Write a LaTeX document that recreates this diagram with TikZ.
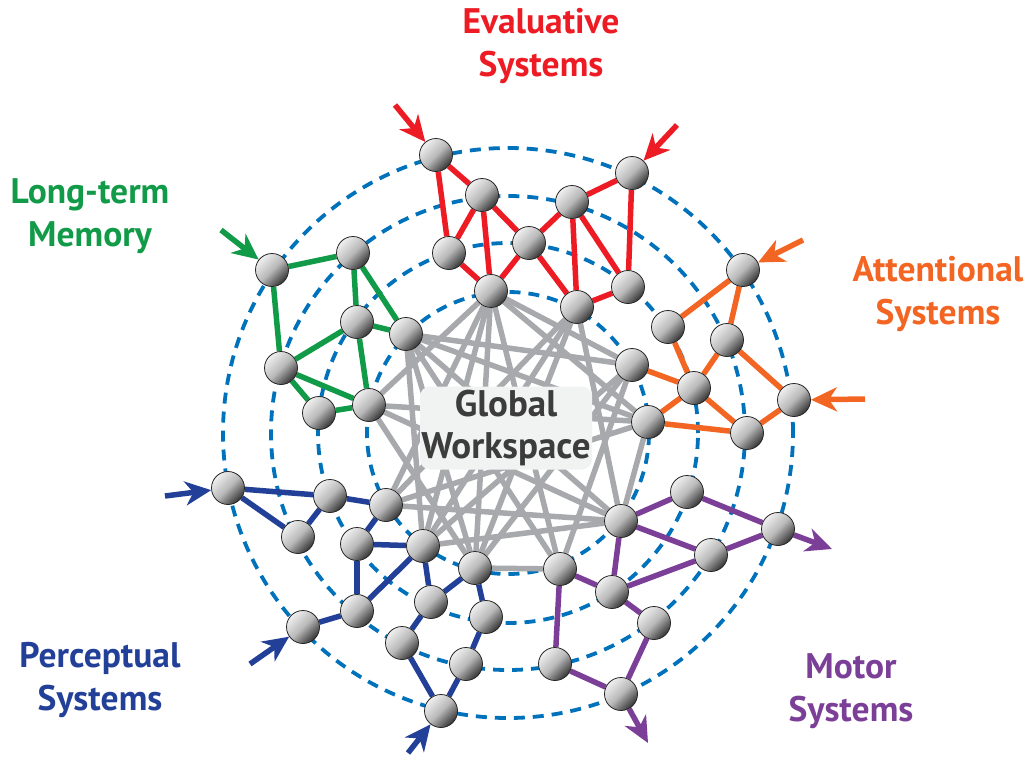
\documentclass[tikz,border=0pt]{standalone}
\usepackage{fontspec}
\setmainfont{PT Sans}
\usetikzlibrary{arrows.meta}
\definecolor{cred}{RGB}{237,28,36}
\definecolor{cgreen}{RGB}{17,155,72}
\definecolor{corange}{RGB}{242,101,34}
\definecolor{cblue}{RGB}{35,64,153}
\definecolor{cpurple}{RGB}{123,63,152}
\definecolor{cgray}{RGB}{167,169,172}
\definecolor{cdash}{RGB}{0,114,188}
\definecolor{ctext}{RGB}{60,60,60}
\definecolor{cbox}{RGB}{241,242,242}
\pgfdeclarelayer{ringl}
\pgfdeclarelayer{grayl}
\pgfdeclarelayer{boxl}
\pgfdeclarelayer{edgel}
\pgfsetlayers{ringl,grayl,boxl,edgel,main}
\begin{document}
\begin{tikzpicture}[x=1pt,y=-1pt,
 ball/.style={circle,minimum size=33pt,inner sep=0pt,draw=black!85,line width=0.8pt,
   top color=gray!12,bottom color=black!80,middle color=gray!55,shading angle=45},
 ring/.style={cdash,line width=3.8pt,dash pattern=on 11pt off 8pt},
 gwlink/.style={cgray,line width=5.5pt},
 link/.style={line width=5.5pt},
 flow/.style={line width=5.5pt,-{Stealth[length=26pt,width=24pt,inset=8pt]}},
 lab/.style={font=\fontsize{35.5}{43}\selectfont\bfseries,align=center},
 wsbox/.style={fill=cbox,rounded corners=10pt,minimum width=172pt,minimum height=83pt,
   inner sep=0pt,align=center,text=ctext,font=\fontsize{37}{42}\selectfont\bfseries}
]
\useasboundingbox (0,0) rectangle (1030,758);

% ---- nodes ----
% red (evaluative)
\node[ball] (R1) at (436,155) {};
\node[ball] (R2) at (482,195) {};
\node[ball] (R3) at (449,253) {};
\node[ball] (R4) at (491,291) {};
\node[ball] (R5) at (529,243) {};
\node[ball] (R6) at (572,202) {};
\node[ball] (R7) at (632,173) {};
\node[ball] (R8) at (628,287) {};
\node[ball] (R9) at (577,307) {};
% green (memory)
\node[ball] (G1) at (272,270) {};
\node[ball] (G2) at (353,253) {};
\node[ball] (G3) at (357,322) {};
\node[ball] (G4) at (406,334) {};
\node[ball] (G5) at (281,368) {};
\node[ball] (G6) at (319,413) {};
\node[ball] (G7) at (369,405) {};
% orange (attention)
\node[ball] (O1) at (743,270) {};
\node[ball] (O2) at (668,327) {};
\node[ball] (O3) at (727,340) {};
\node[ball] (O4) at (694,388) {};
\node[ball] (O5) at (632,365) {};
\node[ball] (O6) at (648,422) {};
\node[ball] (O7) at (747,433) {};
\node[ball] (O8) at (794,400) {};
% blue (perception)
\node[ball] (B1) at (228,488) {};
\node[ball] (B2) at (330,496) {};
\node[ball] (B3) at (298,537) {};
\node[ball] (B4) at (386,505) {};
\node[ball] (B5) at (357,544) {};
\node[ball] (B6) at (423,546) {};
\node[ball] (B7) at (357,611) {};
\node[ball] (B8) at (303,627) {};
\node[ball] (B9) at (431,602) {};
\node[ball] (B10) at (402,643) {};
\node[ball] (B11) at (441,711) {};
\node[ball] (B12) at (475,568) {};
\node[ball] (B13) at (486,617) {};
\node[ball] (B14) at (466,664) {};
% purple (motor)
\node[ball] (P1) at (687,492) {};
\node[ball] (P2) at (621,521) {};
\node[ball] (P3) at (778,529) {};
\node[ball] (P4) at (711,555) {};
\node[ball] (P5) at (560,569) {};
\node[ball] (P6) at (612,592) {};
\node[ball] (P7) at (654,623) {};
\node[ball] (P8) at (555,664) {};
\node[ball] (P9) at (621,694) {};

% free ends of arrows
\coordinate (aR1) at (395,105);
\coordinate (aR7) at (677,125);
\coordinate (aG1) at (221,230);
\coordinate (aO1) at (803,240);
\coordinate (aO8) at (865,399);
\coordinate (aB1) at (165,496);
\coordinate (aB8) at (250,664);
\coordinate (aB11) at (408,753);
\coordinate (aP3) at (832,549);
\coordinate (aP9) at (648,743);
\coordinate (ctr) at (508,433);

% ---- rings ----
\begin{pgfonlayer}{ringl}
\foreach \r in {141,190,237,285} \draw[ring] (ctr) circle[radius=\r pt];
\end{pgfonlayer}

% ---- global workspace links ----
\begin{pgfonlayer}{grayl}
\foreach \a/\b in {R4/G7,R4/B4,R4/B6,R4/B12,R4/P5,R4/O5,R4/O6,
  R9/B12,R9/P2,R9/B6,R9/B4,
  G4/O5,G4/O6,G4/P2,G4/P5,G4/B12,G4/B6,
  G7/O6,G7/B12,G7/P2,
  O5/B12,O5/P5,O5/B6,
  O6/B4,O6/P2,
  P2/B4,P2/B6,P5/B12}
  \draw[gwlink] (\a) -- (\b);
\end{pgfonlayer}

\begin{pgfonlayer}{boxl}
\node[wsbox] (GW) at (506,428) {Global\\Workspace};
\end{pgfonlayer}

% ---- module links ----
\begin{pgfonlayer}{edgel}
\foreach \a/\b in {R1/R2,R1/R3,R2/R3,R2/R4,R2/R5,R3/R4,R4/R5,R5/R6,R5/R9,R6/R7,R6/R9,R6/R8,R7/R8,R8/R9}
  \draw[link,cred] (\a) -- (\b);
\foreach \a/\b in {G1/G2,G1/G5,G2/G3,G2/G4,G3/G4,G3/G5,G3/G7,G5/G6,G5/G7,G6/G7}
  \draw[link,cgreen] (\a) -- (\b);
\foreach \a/\b in {O1/O2,O1/O3,O2/O4,O3/O4,O3/O8,O4/O5,O4/O6,O4/O7,O6/O7,O7/O8}
  \draw[link,corange] (\a) -- (\b);
\foreach \a/\b in {B1/B2,B1/B3,B2/B3,B2/B4,B4/B5,B5/B6,B5/B7,B6/B7,B7/B8,B6/B9,B12/B9,B9/B10,B10/B11,B12/B13,B13/B14,B14/B11}
  \draw[link,cblue] (\a) -- (\b);
\foreach \a/\b in {P2/P1,P1/P3,P2/P4,P4/P3,P2/P6,P5/P6,P6/P4,P6/P7,P7/P9,P5/P8,P8/P9}
  \draw[link,cpurple] (\a) -- (\b);
% arrows
\draw[flow,cred] (aR1) -- (R1);
\draw[flow,cred] (aR7) -- (R7);
\draw[flow,cgreen] (aG1) -- (G1);
\draw[flow,corange] (aO1) -- (O1);
\draw[flow,corange] (aO8) -- (O8);
\draw[flow,cblue] (aB1) -- (B1);
\draw[flow,cblue] (aB8) -- (B8);
\draw[flow,cblue] (aB11) -- (B11);
\draw[flow,cpurple] (P3) -- (aP3);
\draw[flow,cpurple] (P9) -- (aP9);
\end{pgfonlayer}

% ---- labels ----
\node[lab,text=cred] (tEval) at (541,46) {Evaluative\\Systems};
\node[lab,text=cgreen] (tMem) at (90,216) {Long-term\\Memory};
\node[lab,text=corange] (tAtt) at (938,294) {Attentional\\Systems};
\node[lab,text=cblue] (tPer) at (100,680) {Perceptual\\Systems};
\node[lab,text=cpurple] (tMot) at (851,691) {Motor\\Systems};
\end{tikzpicture}
\end{document}
